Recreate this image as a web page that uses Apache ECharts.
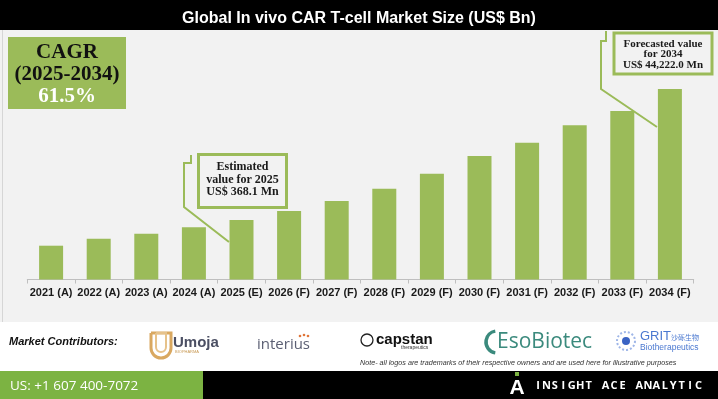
<!DOCTYPE html>
<html>
<head>
<meta charset="utf-8">
<script src="https://cdn.jsdelivr.net/npm/echarts@6/dist/echarts.min.js"></script>
<style>
  html, body { margin: 0; padding: 0; background: #fff; }
  #chart { width: 718px; height: 399px; }
</style>
</head>
<body>
<div id="chart"></div>
<script>
// categories on the x axis
const years = ['2021 (A)', '2022 (A)', '2023 (A)', '2024 (A)', '2025 (E)', '2026 (F)', '2027 (F)',
  '2028 (F)', '2029 (F)', '2030 (F)', '2031 (F)', '2032 (F)', '2033 (F)', '2034 (F)'];
// relative bar heights (the chart shows no value axis)
const marketSize = [33.8, 40.8, 45.8, 52.2, 59.5, 68.5, 78.5, 90.8, 105.8, 123.5, 136.8, 154.2, 168.5, 190.5];
const sizeMax = 199.5;

const titleText = 'Global In vivo CAR T-cell Market Size (US$ Bn)';
const cagrLines = ['CAGR', '(2025-2034)', '61.5%'];
const estimatedNote = ['Estimated', 'value for 2025', 'US$ 368.1 Mn'];
const forecastNote = ['Forecasted value', 'for 2034', 'US$ 44,222.0 Mn'];
const phone = 'US: +1 607 400-7072';
const brand = 'INSIGHT ACE ANALYTIC';
const logoNote = 'Note- all logos are trademarks of their respective owners and are used here for illustrative purposes';

const green = '#9bbb59';
const chart = echarts.init(document.getElementById('chart'));

const serif = 'Liberation Serif';
const sans = 'Liberation Sans';

function txt(x, y, text, style) {
  return {
    type: 'text', x: x, y: y, z: 10,
    style: Object.assign({ text: text, align: 'center', verticalAlign: 'middle', fill: '#000' }, style)
  };
}

const graphics = [
  // title band
  { type: 'rect', shape: { x: 0, y: 0, width: 718, height: 30 }, style: { fill: '#000' }, z: 0 },
  // chart panel
  { type: 'rect', shape: { x: 0, y: 30, width: 718, height: 292 }, style: { fill: '#f2f2f2' }, z: -10 },
  { type: 'line', shape: { x1: 2.5, y1: 30, x2: 2.5, y2: 322 }, style: { stroke: '#d6d6d6', lineWidth: 1 }, z: -9 },
  // CAGR box
  { type: 'rect', shape: { x: 8, y: 37, width: 118, height: 72 }, style: { fill: green }, z: 5 },
  txt(67, 53, cagrLines[0], { font: 'bold 21px "' + serif + '"', fill: '#111' }),
  txt(67, 75, cagrLines[1], { font: 'bold 21px "' + serif + '"', fill: '#111' }),
  txt(67, 97, cagrLines[2], { font: 'bold 21px "' + serif + '"', fill: '#fff' }),
  // estimated 2025 callout
  { type: 'polyline', shape: { points: [[191, 155], [191, 163], [184, 163], [184, 207], [229, 242]] },
    style: { stroke: green, lineWidth: 2, fill: null }, z: 5 },
  { type: 'rect', shape: { x: 198.5, y: 154.5, width: 88, height: 53 },
    style: { fill: '#f2f2f2', stroke: green, lineWidth: 3 }, z: 5 },
  // forecast 2034 callout
  { type: 'polyline', shape: { points: [[606, 31], [606, 41], [601, 41], [601, 89], [657, 127]] },
    style: { stroke: green, lineWidth: 2, fill: null }, z: 5 },
  { type: 'rect', shape: { x: 614, y: 33, width: 98, height: 41 },
    style: { fill: '#f2f2f2', stroke: green, lineWidth: 3 }, z: 5 }
];

estimatedNote.forEach(function (line, i) {
  graphics.push(txt(242.5, 167 + i * 12.5, line, { font: 'bold 12px "' + serif + '"', fill: '#1a1a1a' }));
});
forecastNote.forEach(function (line, i) {
  graphics.push(txt(663, 44 + i * 10.5, line, { font: 'bold 11px "' + serif + '"', fill: '#1a1a1a' }));
});

// contributors strip
graphics.push(
  txt(9, 342, 'Market Contributors:', { align: 'left', font: 'italic bold 11px "' + sans + '"', fill: '#111' }),
  // Umoja
  { type: 'rect', shape: { x: 151, y: 333, width: 20, height: 25, r: [0, 0, 10, 10] },
    style: { fill: null, stroke: '#d9a860', lineWidth: 3 }, z: 10 },
  { type: 'rect', shape: { x: 156, y: 333, width: 10, height: 19, r: [0, 0, 5, 5] },
    style: { fill: null, stroke: '#e6c28a', lineWidth: 2 }, z: 10 },
  txt(173, 343, 'Umoja', { align: 'left', font: 'bold 15px "' + sans + '"', fill: '#4b4f63' }),
  txt(175, 352, 'BIOPHARMA', { align: 'left', font: '4px "' + sans + '"', fill: '#c99a55' }),
  // interius
  txt(257, 345, 'interius', { align: 'left', font: '15px "Open Sans"', fill: '#5b5f73' }),
  { type: 'circle', shape: { cx: 300, cy: 336, r: 1.3 }, style: { fill: '#e0763a' }, z: 10 },
  { type: 'circle', shape: { cx: 304, cy: 335, r: 1.3 }, style: { fill: '#e0763a' }, z: 10 },
  { type: 'circle', shape: { cx: 308, cy: 336, r: 1.3 }, style: { fill: '#e0763a' }, z: 10 },
  // capstan
  { type: 'circle', shape: { cx: 367, cy: 340, r: 6 }, style: { fill: null, stroke: '#222', lineWidth: 1.3 }, z: 10 },
  txt(376, 340, 'capstan', { align: 'left', font: 'bold 15px "' + sans + '"', fill: '#111' }),
  txt(401, 347.5, 'therapeutics', { align: 'left', font: '5px "' + sans + '"', fill: '#333' }),
  // EsoBiotec
  { type: 'arc', shape: { cx: 497, cy: 342, r: 11, startAngle: Math.PI * 0.55, endAngle: Math.PI * 1.45 },
    style: { stroke: '#3b8a7d', lineWidth: 3.5, fill: null }, z: 10 },
  txt(497, 342, 'EsoBiotec', { align: 'left', font: '21px "Open Sans"', fill: '#3b8a7d' }),
  // GRIT
  { type: 'circle', shape: { cx: 626, cy: 341, r: 9 }, style: { fill: null, stroke: '#9fb6e8', lineWidth: 2, lineDash: [2, 2] }, z: 10 },
  { type: 'circle', shape: { cx: 626, cy: 341, r: 4 }, style: { fill: '#3a63c4' }, z: 10 },
  txt(640, 336, 'GRIT', { align: 'left', font: '13px "' + sans + '"', fill: '#4a78d0' }),
  txt(671, 337, '沙砾生物', { align: 'left', font: '7px "Noto Sans CJK SC"', fill: '#4a78d0' }),
  txt(640, 348, 'Biotherapeutics', { align: 'left', font: '8.5px "' + sans + '"', fill: '#4a78d0' }),
  txt(360, 363, logoNote, { align: 'left', font: 'italic 7.2px "' + sans + '"', fill: '#333' })
);

// footer
graphics.push(
  { type: 'rect', shape: { x: 0, y: 371, width: 718, height: 28 }, style: { fill: '#000' }, z: 1 },
  { type: 'rect', shape: { x: 0, y: 371, width: 203, height: 28 }, style: { fill: '#7cb342' }, z: 2 },
  txt(10, 386, phone, { align: 'left', font: '13.5px "Open Sans"', fill: '#fff' }),
  { type: 'rect', shape: { x: 515, y: 372, width: 4, height: 4 }, style: { fill: '#7cb342' }, z: 10 },
  txt(517, 388, 'A', { font: 'bold 21px "' + sans + '"', fill: '#fff' })
);
brand.split('').forEach(function (ch, i) {
  graphics.push(txt(538 + i * 8.45, 385.5, ch, { font: 'bold 11px "Open Sans"', fill: '#fff' }));
});

const option = {
  backgroundColor: '#fff',
  animation: false,
  title: {
    text: titleText,
    left: 'center',
    top: 6,
    textStyle: { color: '#fff', fontSize: 16, fontWeight: 'bold', fontFamily: sans }
  },
  grid: { left: 27.3, right: 24.3, top: 80, bottom: 119.5 },
  xAxis: {
    type: 'category',
    data: years,
    axisLine: { lineStyle: { color: '#bfbfbf', width: 1 } },
    axisTick: { show: true, length: 4, lineStyle: { color: '#bfbfbf' } },
    axisLabel: { interval: 0, margin: 8, color: '#1a1a1a', fontSize: 11, fontWeight: 'bold', fontFamily: sans }
  },
  yAxis: { type: 'value', min: 0, max: sizeMax, show: false },
  series: [{
    type: 'bar',
    data: marketSize,
    barWidth: 24,
    itemStyle: { color: green }
  }],
  graphic: graphics
};

chart.setOption(option);
</script>
</body>
</html>
